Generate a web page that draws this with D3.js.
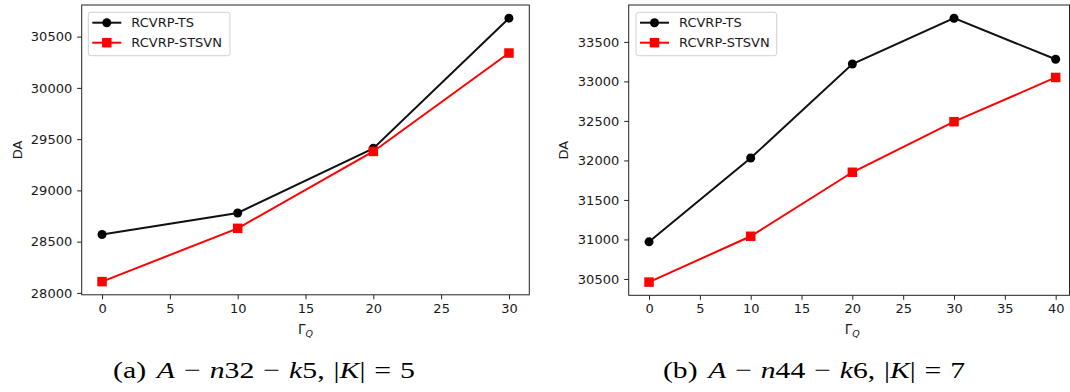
<!DOCTYPE html>
<html>
<head>
<meta charset="utf-8">
<script src="https://cdn.jsdelivr.net/npm/d3@7"></script>
<style>
  html, body { margin: 0; padding: 0; background: #fff; }
  svg { display: block; }
  text { font-family: "DejaVu Sans", sans-serif; fill: #1a1a1a; }
  .cap { font-family: "Liberation Serif", "DejaVu Serif", serif; fill: #000; }
</style>
</head>
<body>
<svg id="chart" width="1070" height="392"></svg>
<script>
// ---- data ----
const seriesNames = ["RCVRP-TS", "RCVRP-STSVN"];

const gammaA = [0, 10, 20, 30];
const tsA    = [28570, 28780, 29410, 30680];
const stsvnA = [28110, 28630, 29380, 30340];
const xTicksA = [0, 5, 10, 15, 20, 25, 30];
const yTicksA = [28000, 28500, 29000, 29500, 30000, 30500];

const gammaB = [0, 10, 20, 30, 40];
const tsB    = [30970, 32030, 33220, 33800, 33280];
const stsvnB = [30460, 31040, 31850, 32490, 33050];
const xTicksB = [0, 5, 10, 15, 20, 25, 30, 35, 40];
const yTicksB = [30500, 31000, 31500, 32000, 32500, 33000, 33500];

// caption pieces: [text, italic]
const captionA = [["(a)", false], ["A", true], ["−", false], ["n", true], ["32", false], ["−", false], ["k", true], ["5,", false], ["|", false], ["K", true], ["|", false], ["=", false], ["5", false]];
const captionB = [["(b)", false], ["A", true], ["−", false], ["n", true], ["44", false], ["−", false], ["k", true], ["6,", false], ["|", false], ["K", true], ["|", false], ["=", false], ["7", false]];

const svg = d3.select("#chart");
const W = 1070;

function panel(cfg) {
  const g = svg.append("g");
  // matplotlib-like 5% margins
  const xs = cfg.gamma;
  const xr = d3.max(xs) - d3.min(xs);
  const all = cfg.ts.concat(cfg.stsvn);
  const yMin = d3.min(all), yMax = d3.max(all), yr = yMax - yMin;
  const x = d3.scaleLinear().domain([d3.min(xs) - 0.05 * xr, d3.max(xs) + 0.05 * xr]).range([cfg.left, cfg.right]);
  const y = d3.scaleLinear().domain([yMin - 0.05 * yr, yMax + 0.05 * yr]).range([cfg.bottom, cfg.top]);

  const frameRight = Math.min(cfg.right, W - 0.5);

  // axes
  const xAxis = d3.axisBottom(x).tickValues(cfg.xTicks).tickSize(4.5).tickPadding(4).tickFormat(d3.format("d"));
  const yAxis = d3.axisLeft(y).tickValues(cfg.yTicks).tickSize(4.5).tickPadding(5).tickFormat(d3.format("d"));

  const gx = g.append("g").attr("transform", `translate(0,${cfg.bottom})`).call(xAxis);
  const gy = g.append("g").attr("transform", `translate(${cfg.left},0)`).call(yAxis);
  [gx, gy].forEach(a => {
    a.select(".domain").remove();
    a.selectAll(".tick line").attr("stroke", "#222").attr("stroke-width", 1);
    a.selectAll(".tick text").attr("font-size", 13).attr("fill", "#222")
      .attr("font-family", "DejaVu Sans, sans-serif");
  });

  // frame
  g.append("rect")
    .attr("x", cfg.left).attr("y", cfg.top)
    .attr("width", frameRight - cfg.left).attr("height", cfg.bottom - cfg.top)
    .attr("fill", "none").attr("stroke", "#222").attr("stroke-width", 1);

  const line = d3.line().x((d, i) => x(cfg.gamma[i])).y(d => y(d));

  const clipId = "clip" + cfg.id;
  svg.append("clipPath").attr("id", clipId).append("rect")
    .attr("x", cfg.left - 10).attr("y", 0).attr("width", W - cfg.left + 10).attr("height", 392);
  const plot = g.append("g").attr("clip-path", `url(#${clipId})`);

  plot.append("path").datum(cfg.ts).attr("d", line)
    .attr("fill", "none").attr("stroke", "#111").attr("stroke-width", 2);
  plot.append("path").datum(cfg.stsvn).attr("d", line)
    .attr("fill", "none").attr("stroke", "#ff0000").attr("stroke-width", 2);

  plot.selectAll("circle.ts").data(cfg.ts).enter().append("circle")
    .attr("cx", (d, i) => x(cfg.gamma[i])).attr("cy", d => y(d)).attr("r", 4.5)
    .attr("fill", "#000");
  const s = 9.5;
  plot.selectAll("rect.st").data(cfg.stsvn).enter().append("rect")
    .attr("x", (d, i) => x(cfg.gamma[i]) - s / 2).attr("y", d => y(d) - s / 2)
    .attr("width", s).attr("height", s).attr("fill", "#ff0000");

  // legend
  const lg = g.append("g");
  lg.append("rect").attr("x", cfg.legX).attr("y", 12.3)
    .attr("width", cfg.legW).attr("height", 43.4).attr("rx", 2.5)
    .attr("fill", "#fff").attr("fill-opacity", 0.8)
    .attr("stroke", "#d0d0d0").attr("stroke-width", 1);
  const rows = [22.7, 42.7];
  const lx0 = cfg.legX + 4, lx1 = cfg.legX + 33, mx = (lx0 + lx1) / 2;
  lg.append("line").attr("x1", lx0).attr("x2", lx1).attr("y1", rows[0]).attr("y2", rows[0])
    .attr("stroke", "#111").attr("stroke-width", 2);
  lg.append("circle").attr("cx", mx).attr("cy", rows[0]).attr("r", 4.5).attr("fill", "#000");
  lg.append("line").attr("x1", lx0).attr("x2", lx1).attr("y1", rows[1]).attr("y2", rows[1])
    .attr("stroke", "#ff0000").attr("stroke-width", 2);
  lg.append("rect").attr("x", mx - s / 2).attr("y", rows[1] - s / 2).attr("width", s).attr("height", s).attr("fill", "#ff0000");
  seriesNames.forEach((n, i) => {
    lg.append("text").attr("x", cfg.legX + 43).attr("y", rows[i] + 4.7)
      .attr("font-size", 13).attr("fill", "#1a1a1a").text(n);
  });

  // axis labels
  const cx = (cfg.left + cfg.right) / 2;
  const xl = g.append("text").attr("x", cx).attr("y", 334).attr("text-anchor", "middle").attr("font-size", 13.5);
  xl.append("tspan").text("Γ");
  xl.append("tspan").attr("font-size", 9.5).attr("font-style", "italic").attr("dy", 3).text("Q");

  g.append("text")
    .attr("transform", `translate(${cfg.daX},${(cfg.top + cfg.bottom) / 2}) rotate(-90)`)
    .attr("text-anchor", "middle").attr("font-size", 13).text("DA");

  // caption (math-like spacing around operators)
  const cap = svg.append("text").attr("class", "cap")
    .attr("x", cfg.capX).attr("y", 378).attr("text-anchor", "middle").attr("font-size", 24)
    .attr("textLength", 302).attr("lengthAdjust", "spacingAndGlyphs");
  const ops = new Set(["−", "="]);
  cfg.caption.forEach(([t, it], i) => {
    const prev = i > 0 ? cfg.caption[i - 1][0] : null;
    let dx = 0;
    if (prev !== null) {
      if (/^\(.\)$/.test(prev)) dx = 0.36;
      else if (ops.has(t) || ops.has(prev)) dx = 0.3;
      else if (prev.endsWith(",")) dx = 0.3;
    }
    const ts = cap.append("tspan").attr("dx", dx ? dx + "em" : null).text(t);
    if (it) ts.attr("font-style", "italic");
  });
}

panel({ id: "a", gamma: gammaA, ts: tsA, stsvn: stsvnA, xTicks: xTicksA, yTicks: yTicksA,
  left: 81.7, right: 529.3, top: 5, bottom: 294.8, legX: 88.3, legW: 141.7, daX: 21.5,
  capX: 264, caption: captionA });

panel({ id: "b", gamma: gammaB, ts: tsB, stsvn: stsvnB, xTicks: xTicksB, yTicks: yTicksB,
  left: 628.7, right: 1076, top: 5, bottom: 295.3, legX: 636, legW: 140.7, daX: 568.3,
  capX: 814, caption: captionB });
</script>
</body>
</html>
